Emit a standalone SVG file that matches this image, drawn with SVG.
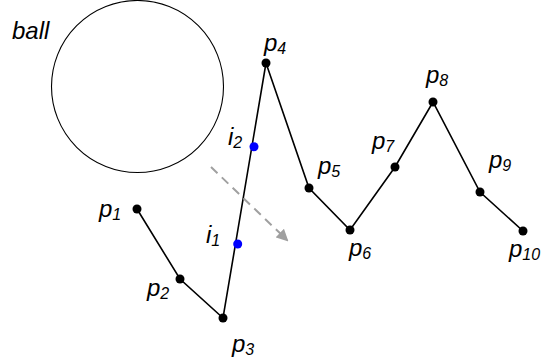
<svg xmlns="http://www.w3.org/2000/svg" width="551" height="363" viewBox="0 0 551 363">
<style>
text{font-family:"Liberation Sans",Arial,sans-serif;font-style:italic;font-size:24px;fill:#000}
.s{font-size:16px}
.pt{fill:#000}
.ix{fill:#0000ff}
.ln{fill:none;stroke:#000;stroke-width:1.6}
</style>
<defs>
<marker id="ah" markerWidth="12" markerHeight="12" refX="10" refY="6" orient="auto" markerUnits="userSpaceOnUse" viewBox="0 0 12 12">
<path d="M0,0 L12,6 L0,12 z" fill="#a0a0a0"/>
</marker>
</defs>
<g id="ball">
<circle cx="137.5" cy="86.5" r="86" fill="none" stroke="#000" stroke-width="1.1"/>
<text x="12" y="39">ball</text>
</g>
<g id="connectors">
<polyline class="ln" points="137,209 180,279 223,318 266,63 309,188 350,230 395,167 433,102 480,192 523,231"/>
<line x1="211" y1="167" x2="287" y2="240" stroke="#a0a0a0" stroke-width="2" stroke-dasharray="9,6" marker-end="url(#ah)"/>
</g>
<g id="p1"><circle class="pt" cx="137" cy="209" r="4.5"/><text x="99" y="217">p<tspan class="s" dy="3">1</tspan></text></g>
<g id="p2"><circle class="pt" cx="180" cy="279" r="4.5"/><text x="147" y="296">p<tspan class="s" dy="3">2</tspan></text></g>
<g id="p3"><circle class="pt" cx="223" cy="318" r="4.5"/><text x="232" y="352">p<tspan class="s" dy="3">3</tspan></text></g>
<g id="p4"><circle class="pt" cx="266" cy="63" r="4.5"/><text x="264" y="51">p<tspan class="s" dy="3">4</tspan></text></g>
<g id="p5"><circle class="pt" cx="309" cy="188" r="4.5"/><text x="318" y="174">p<tspan class="s" dy="3">5</tspan></text></g>
<g id="p6"><circle class="pt" cx="350" cy="230" r="4.5"/><text x="349" y="256">p<tspan class="s" dy="3">6</tspan></text></g>
<g id="p7"><circle class="pt" cx="395" cy="167" r="4.5"/><text x="372" y="149">p<tspan class="s" dy="3">7</tspan></text></g>
<g id="p8"><circle class="pt" cx="433" cy="102" r="4.5"/><text x="426" y="83">p<tspan class="s" dy="3">8</tspan></text></g>
<g id="p9"><circle class="pt" cx="480" cy="192" r="4.5"/><text x="489" y="168">p<tspan class="s" dy="3">9</tspan></text></g>
<g id="p10"><circle class="pt" cx="523" cy="231" r="4.5"/><text x="509" y="257">p<tspan class="s" dy="3">10</tspan></text></g>
<g id="i1"><circle class="ix" cx="237.7" cy="244" r="4.5"/><text x="206" y="243">i<tspan class="s" dy="3">1</tspan></text></g>
<g id="i2"><circle class="ix" cx="254" cy="146.7" r="4.5"/><text x="228" y="145">i<tspan class="s" dy="3">2</tspan></text></g>
</svg>
